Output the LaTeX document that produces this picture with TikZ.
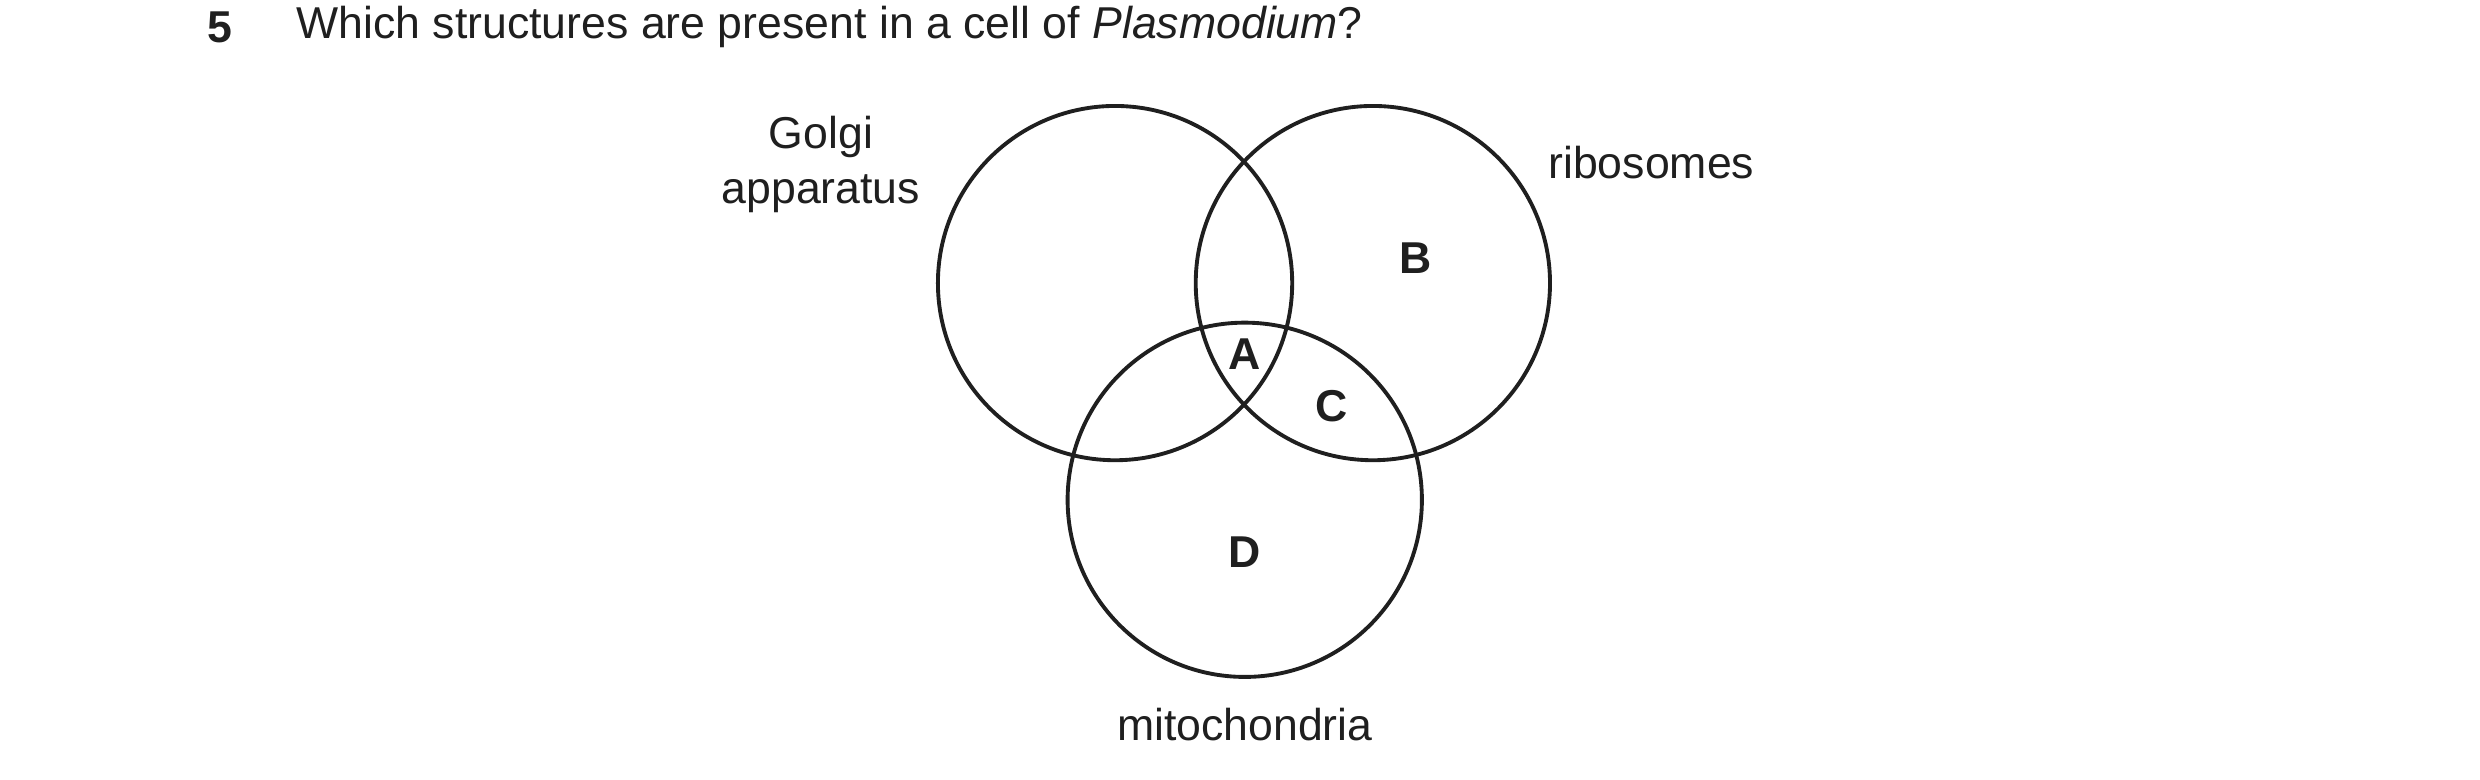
\documentclass[tikz,border=0pt]{standalone}
\usepackage{fontspec}
\setmainfont{Liberation Sans}
\usepackage{tikz}
\tikzset{
    setcircle/.style = {circle, draw=black!88, line width=1.1pt, minimum size=224*0.01582cm, inner sep=0pt},
    setlabel/.style = {align=center, inner sep=0pt, text=black!88, font=\fontsize{12.7}{15.5}\selectfont},
    region/.style = {inner sep=0pt, text=black!88, font=\fontsize{12.7}{15}\selectfont\bfseries}
}
\begin{document}
\begin{tikzpicture}[x=0.01582cm, y=-0.01582cm]
    \useasboundingbox (0,0) rectangle (1568,493);

    \node [region] (num) at (139,17) {5};
    \node [setlabel, anchor=west] (question) at (187,17) {Which structures are present in a cell of \textit{Plasmodium}?};

    % the three sets
    \node [setcircle] (golgi) at (705,179) {};
    \node [setcircle] (ribo) at (868,179) {};
    \node [setcircle] (mito) at (787,316) {};

    \node [setlabel] (golgilabel) at (519,104) {Golgi\\apparatus};
    \node [setlabel] (ribolabel) at (1044,103) {ribosomes};
    \node [setlabel] (mitolabel) at (787,458) {mitochondria};

    \node [region] (A) at (787,224) {A};
    \node [region] (B) at (895,163) {B};
    \node [region] (C) at (842,257) {C};
    \node [region] (D) at (787,349) {D};
\end{tikzpicture}
\end{document}
